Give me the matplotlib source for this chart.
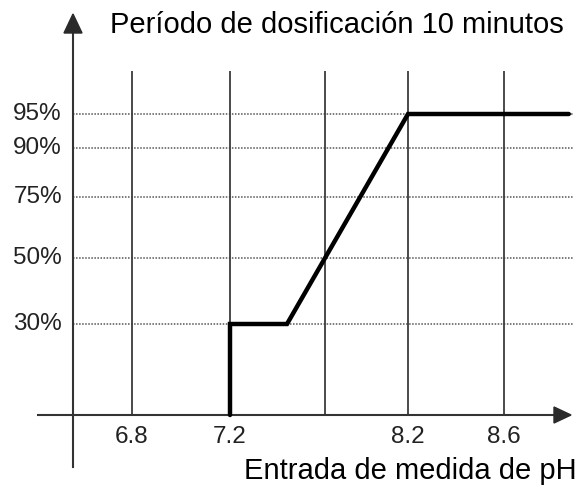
import numpy as np
import matplotlib
matplotlib.use("Agg")
import matplotlib.pyplot as plt
from matplotlib.patches import Polygon

plt.rcParams['font.family'] = ['Liberation Sans', 'DejaVu Sans']
FONT = ['Liberation Sans', 'DejaVu Sans']

# ---- data ----
ph_grid = [6.8, 7.2, 7.7, 8.2, 8.6]          # vertical reference lines
ph_labels = ["6.8", "7.2", "", "8.2", "8.6"]  # tick labels
pct_levels = [30, 50, 75, 90, 95]             # dotted reference lines
pct_labels = ["30%", "50%", "75%", "90%", "95%"]
curve_ph = [7.2, 7.2, 7.5, 8.2, 8.87]         # dosing curve
curve_pct = [0, 30, 30, 95, 95]

title = "Período de dosificación 10 minutos"
xlabel = "Entrada de medida de pH"

W, H = 582, 493
fig = plt.figure(figsize=(W / 100, H / 100), dpi=100)
ax = fig.add_axes([0, 0, 1, 1])

# schematic (non-linear) axis scales, piecewise linear with extrapolation
def make_scale(src, dst):
    src = np.asarray(src, float); dst = np.asarray(dst, float)
    def fwd(v):
        v = np.asarray(v, float)
        out = np.interp(v, src, dst)
        lo = v < src[0]; hi = v > src[-1]
        s0 = (dst[1] - dst[0]) / (src[1] - src[0])
        s1 = (dst[-1] - dst[-2]) / (src[-1] - src[-2])
        out = np.where(lo, dst[0] + (v - src[0]) * s0, out)
        out = np.where(hi, dst[-1] + (v - src[-1]) * s1, out)
        return out
    def inv(p):
        p = np.asarray(p, float)
        out = np.interp(p, dst, src)
        lo = p < dst[0]; hi = p > dst[-1]
        s0 = (src[1] - src[0]) / (dst[1] - dst[0])
        s1 = (src[-1] - src[-2]) / (dst[-1] - dst[-2])
        out = np.where(lo, src[0] + (p - dst[0]) * s0, out)
        out = np.where(hi, src[-1] + (p - dst[-1]) * s1, out)
        return out
    return fwd, inv

xf, xi = make_scale(ph_grid, [132, 230, 325, 408, 504])
yf, yi = make_scale([0] + pct_levels, [H - 415, H - 324, H - 258, H - 197, H - 148, H - 114])
ax.set_xscale('function', functions=(xf, xi))
ax.set_yscale('function', functions=(yf, yi))
ax.set_xlim(float(xi(0)), float(xi(W)))
ax.set_ylim(float(yi(0)), float(yi(H)))
ax.axis('off')

def fx(px):  # pixel -> axes fraction
    return px / W
def fy(py):
    return 1 - py / H

top_pct = float(yi(H - 71))
# vertical grid lines
for p in ph_grid:
    ax.plot([p, p], [0, top_pct], color='#3c3c3c', lw=1.3, solid_capstyle='butt', zorder=2)
# horizontal dotted lines
x_left = float(xi(73)); x_right = float(xi(573))
for v in pct_levels:
    ax.plot([x_left, x_right], [v, v], color='#555555', lw=1.1, ls=(0, (1, 1)), zorder=1)

# axes with arrows
ax.plot([fx(73), fx(73)], [fy(467), fy(30)], transform=ax.transAxes, color='#333333', lw=1.5, zorder=3)
ax.plot([fx(38), fx(557)], [fy(415), fy(415)], transform=ax.transAxes, color='#333333', lw=1.5, zorder=3)
ax.add_patch(Polygon([[fx(64), fy(33)], [fx(82), fy(33)], [fx(73), fy(14)]],
                     closed=True, transform=ax.transAxes, color='#2a2a2a', zorder=4))
ax.add_patch(Polygon([[fx(554), fy(407)], [fx(554), fy(423)], [fx(571), fy(415)]],
                     closed=True, transform=ax.transAxes, color='#2a2a2a', zorder=4))

# dosing curve
ax.plot(curve_ph, curve_pct, color='black', lw=3.2, solid_capstyle='round',
        solid_joinstyle='miter', zorder=5)

# labels
for v, lab in zip(pct_levels, pct_labels):
    ax.text(fx(62), float(yf(v)) / H, lab, transform=ax.transAxes, ha='right', va='center',
            fontsize=17.5, color='#222222', family=FONT)
for p, lab in zip(ph_grid, ph_labels):
    if lab:
        ax.text(float(xf(p)) / W, fy(437), lab, transform=ax.transAxes, ha='center', va='center',
                fontsize=17.5, color='#222222', family=FONT)

ax.text(fx(110), fy(33), title, transform=ax.transAxes, ha='left', va='baseline',
        fontsize=21, color='black', family=FONT)
ax.text(fx(577), fy(479), xlabel, transform=ax.transAxes, ha='right', va='baseline',
        fontsize=21, color='black', family=FONT)

fig.savefig('out.png', dpi=100)
